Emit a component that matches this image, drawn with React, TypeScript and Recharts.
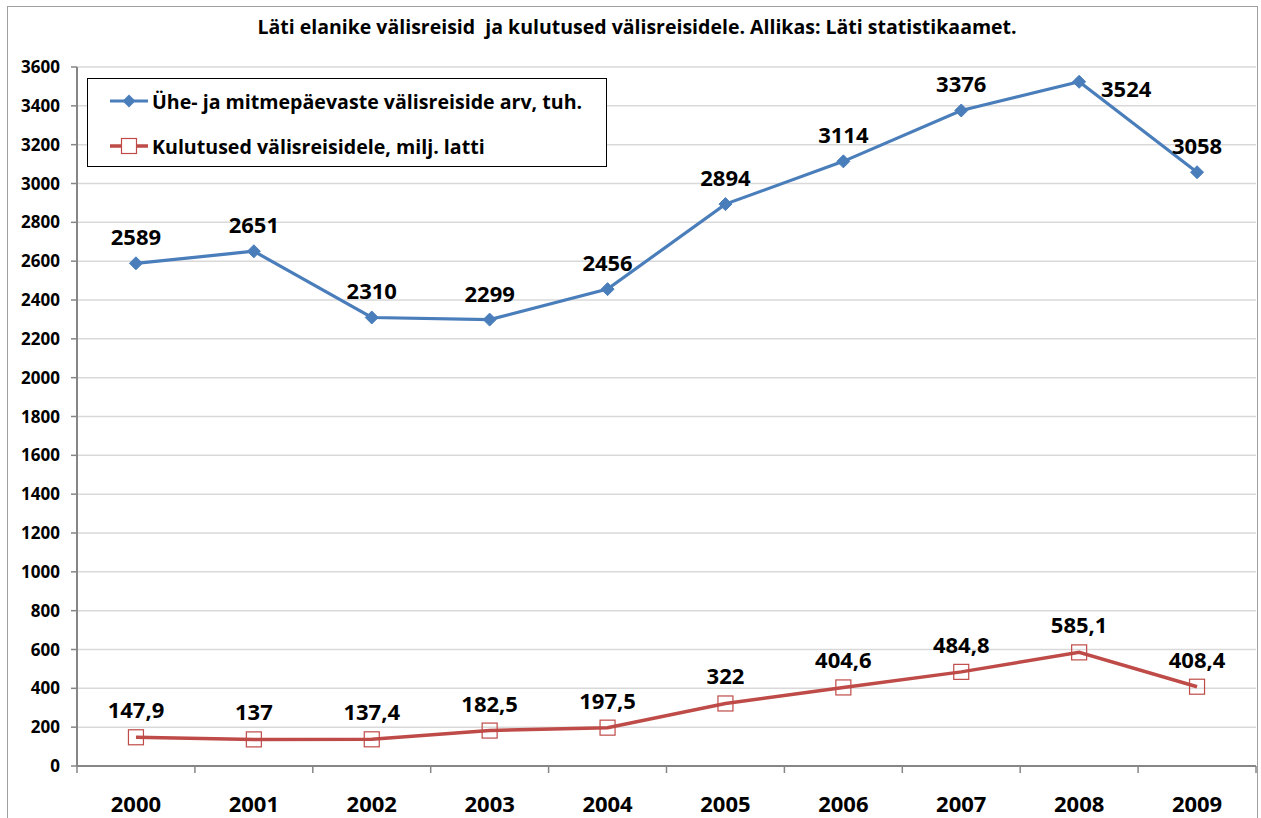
import React from "react";
import { ComposedChart, Line, XAxis, YAxis, CartesianGrid, LabelList } from "recharts";

const years = ["2000", "2001", "2002", "2003", "2004", "2005", "2006", "2007", "2008", "2009"];
const trips = [2589, 2651, 2310, 2299, 2456, 2894, 3114, 3376, 3524, 3058];
const spending = [147.9, 137, 137.4, 182.5, 197.5, 322, 404.6, 484.8, 585.1, 408.4];
const spendingLabels = ["147,9", "137", "137,4", "182,5", "197,5", "322", "404,6", "484,8", "585,1", "408,4"];
const yTicks = [0, 200, 400, 600, 800, 1000, 1200, 1400, 1600, 1800, 2000, 2200, 2400, 2600, 2800, 3000, 3200, 3400, 3600];

const seriesNames = {
  trips: "Ühe- ja mitmepäevaste välisreiside arv, tuh.",
  spending: "Kulutused välisreisidele, milj. latti",
};
const title = "Läti elanike välisreisid  ja kulutused välisreisidele. Allikas: Läti statistikaamet.";

const data = years.map((y, i) => ({ year: y, trips: trips[i], spending: spending[i], spendingLabel: spendingLabels[i] }));

const BLUE = "#4a7ebb";
const RED = "#be4b48";
const FONT = "'Open Sans', sans-serif";

const W = 1261;
const H = 818;
const M = { top: 67, right: 5, left: 0, bottom: 0 };
const Y_W = 77;
const X_H = 52;
const BAND = (W - M.right - Y_W) / years.length;

const Diamond = (props: any) => {
  const { cx, cy, index } = props;
  if (cx == null || cy == null) return <g key={index} />;
  const r = 6.5;
  return (
    <path key={index} d={`M${cx},${cy - r}L${cx + r},${cy}L${cx},${cy + r}L${cx - r},${cy}Z`} fill={BLUE} stroke={BLUE} strokeWidth={1} />
  );
};

const Square = (props: any) => {
  const { cx, cy, index } = props;
  if (cx == null || cy == null) return <g key={index} />;
  const s = 15;
  return <rect key={index} x={cx - s / 2} y={cy - s / 2} width={s} height={s} fill="none" stroke={RED} strokeWidth={1.2} />;
};

const tripLabel = (props: any) => {
  const { x, y, value, index } = props;
  let lx = x;
  let ly = y - 27;
  if (index === 8) {
    lx = x + 47;
    ly = y + 6;
  }
  return (
    <text key={index} x={lx} y={ly} textAnchor="middle" dominantBaseline="central" fontFamily={FONT} fontWeight={700} fontSize={22} fill="#000">
      {value}
    </text>
  );
};

const spendLabel = (props: any) => {
  const { x, y, value, index } = props;
  return (
    <text key={index} x={x} y={y - 28} textAnchor="middle" dominantBaseline="central" fontFamily={FONT} fontWeight={700} fontSize={22} fill="#000">
      {value}
    </text>
  );
};

const XTick = (props: any) => {
  const { x, y, payload, index } = props;
  return (
    <g>
      <line x1={x - BAND / 2} x2={x - BAND / 2} y1={y} y2={y + 7} stroke="#868686" strokeWidth={1.5} />
      {index === years.length - 1 && (
        <line x1={x + BAND / 2} x2={x + BAND / 2} y1={y} y2={y + 7} stroke="#868686" strokeWidth={1.5} />
      )}
      <text x={x} y={y + 37} textAnchor="middle" dominantBaseline="central" fontFamily={FONT} fontWeight={700} fontSize={22} fill="#000">
        {payload.value}
      </text>
    </g>
  );
};

const LegendBox = () => (
  <div
    style={{
      position: "absolute",
      left: 87,
      top: 78,
      width: 520,
      height: 89,
      border: "1px solid #000",
      background: "#fff",
      boxSizing: "border-box",
    }}
  >
    <svg width={518} height={87} style={{ position: "absolute", left: 0, top: 0 }}>
      <line x1={22} x2={60} y1={22} y2={22} stroke={BLUE} strokeWidth={3} />
      <path d="M41,15.5L47.5,22L41,28.5L34.5,22Z" fill={BLUE} />
      <line x1={22} x2={60} y1={67} y2={67} stroke={RED} strokeWidth={3.5} />
      <rect x={33.5} y={59.5} width={15} height={15} fill="#fff" stroke={RED} strokeWidth={1.2} />
      <text x={64} y={22} dominantBaseline="central" fontFamily={FONT} fontWeight={700} fontSize={19.6} fill="#000">
        {seriesNames.trips}
      </text>
      <text x={64} y={67} dominantBaseline="central" fontFamily={FONT} fontWeight={700} fontSize={19.6} fill="#000">
        {seriesNames.spending}
      </text>
    </svg>
  </div>
);

export default function App() {
  return (
    <div style={{ position: "absolute", left: 0, top: 0, width: W, height: H, overflow: "hidden", background: "#fff" }}>
      <div
        style={{
          position: "absolute",
          left: 7,
          top: 6,
          width: 1251,
          height: 840,
          border: "1px solid #a0a0a0",
          boxSizing: "border-box",
        }}
      />
      <div style={{ position: "absolute", left: 0, top: 0 }}>
        <ComposedChart width={W} height={H} data={data} margin={M}>
          <CartesianGrid horizontal={true} vertical={false} stroke="#d9d9d9" strokeWidth={1.5} />
          <XAxis
            dataKey="year"
            height={X_H}
            tickLine={false}
            tickSize={0}
            tickMargin={0}
            padding={{ left: BAND / 2, right: BAND / 2 }}
            axisLine={{ stroke: "#868686", strokeWidth: 2 }}
            tick={<XTick />}
            interval={0}
          />
          <YAxis
            width={Y_W}
            domain={[0, 3600]}
            ticks={yTicks}
            interval={0}
            tickSize={6}
            tickMargin={11}
            axisLine={{ stroke: "#868686", strokeWidth: 2 }}
            tickLine={{ stroke: "#868686", strokeWidth: 1.5 }}
            tick={{ fontFamily: FONT, fontWeight: 700, fontSize: 17, fill: "#000" }}
          />
          <Line
            type="linear"
            dataKey="trips"
            name={seriesNames.trips}
            stroke={BLUE}
            strokeWidth={3.2}
            dot={Diamond}
            activeDot={false}
            isAnimationActive={false}
          >
            <LabelList dataKey="trips" content={tripLabel} />
          </Line>
          <Line
            type="linear"
            dataKey="spending"
            name={seriesNames.spending}
            stroke={RED}
            strokeWidth={3.5}
            dot={Square}
            activeDot={false}
            isAnimationActive={false}
          >
            <LabelList dataKey="spendingLabel" content={spendLabel} />
          </Line>
        </ComposedChart>
      </div>
      <LegendBox />
      <div
        style={{
          position: "absolute",
          left: 0,
          width: 1274,
          top: 12,
          textAlign: "center",
          fontFamily: FONT,
          fontWeight: 700,
          fontSize: 19.5,
          lineHeight: "30px",
          whiteSpace: "pre",
          color: "#000",
        }}
      >
        {title}
      </div>
    </div>
  );
}
